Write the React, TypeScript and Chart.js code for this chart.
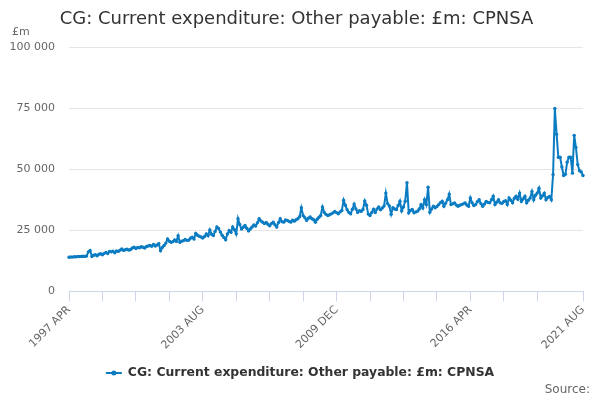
import { Chart, registerables } from 'chart.js'
import { useEffect, useRef } from 'react'

Chart.register(...registerables)

const FONT = "'DejaVu Sans', sans-serif"
const BLUE = '#0b7cc2'
const SERIES = 'CG: Current expenditure: Other payable: £m: CPNSA'

const MONTHS = ['JAN', 'FEB', 'MAR', 'APR', 'MAY', 'JUN', 'JUL', 'AUG', 'SEP', 'OCT', 'NOV', 'DEC']

// monthly values, £m, each row runs April to March
const fy1997 = [14000, 14100, 14050, 14200, 14150, 14300, 14250, 14300, 14400, 14350, 14500, 16200]
const fy1998 = [16800, 14300, 14800, 15000, 14600, 15200, 15400, 15000, 15600, 16000, 15500, 16400]
const fy1999 = [16200, 16500, 15800, 16600, 16400, 16900, 17400, 16800, 17100, 17300, 16900, 17200]
const fy2000 = [17800, 18100, 17600, 18000, 17900, 18300, 18100, 17800, 18400, 18600, 18800, 18500]
const fy2001 = [19200, 18600, 19000, 19600, 16700, 18000, 18800, 19800, 21500, 20600, 20100, 20400]
const fy2002 = [21100, 20500, 22800, 20100, 20600, 20800, 21300, 20900, 21000, 21800, 22200, 21500]
const fy2003 = [23800, 23000, 22600, 22300, 21900, 22500, 23600, 22800, 25200, 23400, 22900, 24600]
const fy2004 = [26400, 25800, 24300, 23000, 22100, 21200, 23500, 25000, 24200, 26400, 25300, 23600]
const fy2005 = [29800, 27400, 25600, 26300, 27000, 25900, 24800, 25600, 26400, 27200, 26800, 28100]
const fy2006 = [29800, 28900, 28400, 27800, 28300, 27500, 26900, 27800, 28400, 27300, 26400, 28200]
const fy2007 = [29800, 28600, 28400, 29300, 29100, 28700, 28400, 29200, 28800, 29400, 29800, 30600]
const fy2008 = [34300, 31100, 30200, 29100, 30000, 30500, 29800, 29400, 28400, 29600, 30400, 31100]
const fy2009 = [34600, 32400, 31600, 31100, 31400, 31800, 32200, 32800, 32300, 31800, 32600, 33200]
const fy2010 = [37400, 35300, 33500, 32400, 31800, 33700, 35800, 33800, 32400, 33100, 32800, 33600]
const fy2011 = [37100, 35300, 31700, 31100, 32400, 33700, 32400, 33800, 34600, 33500, 34200, 35000]
const fy2012 = [40300, 36000, 35000, 31600, 34300, 33800, 33600, 35200, 37000, 33000, 34600, 37000]
const fy2013 = [44600, 32200, 33200, 33600, 32200, 32600, 32900, 33800, 35600, 34200, 37600, 35600]
const fy2014 = [42700, 32500, 33800, 34900, 34300, 34800, 35600, 36400, 37000, 34900, 36200, 37600]
const fy2015 = [39900, 35600, 35900, 36300, 35400, 34900, 35300, 35600, 35900, 36300, 35400, 34900]
const fy2016 = [38300, 36300, 35200, 35600, 36800, 37600, 36000, 34900, 35800, 36900, 36500, 36300]
const fy2017 = [37600, 39000, 35600, 36600, 37600, 36300, 36100, 36900, 37200, 35600, 38300, 37400]
const fy2018 = [36300, 38200, 39000, 37800, 40300, 36900, 37900, 39000, 36300, 37400, 38300, 41000]
const fy2019 = [37600, 39400, 40300, 42300, 38300, 39200, 40300, 37600, 38500, 38900, 37600, 47900]
const fy2020 = [75000, 64500, 55000, 55000, 51000, 47500, 48000, 53000, 55000, 55000, 48500, 64000]
const fy2021 = [59000, 52000, 49500, 49000, 47500]

const values = [
  ...fy1997, ...fy1998, ...fy1999, ...fy2000, ...fy2001, ...fy2002, ...fy2003, ...fy2004,
  ...fy2005, ...fy2006, ...fy2007, ...fy2008, ...fy2009, ...fy2010, ...fy2011, ...fy2012,
  ...fy2013, ...fy2014, ...fy2015, ...fy2016, ...fy2017, ...fy2018, ...fy2019, ...fy2020, ...fy2021,
]

const labels = values.map((_, i) => `${1997 + Math.floor((3 + i) / 12)} ${MONTHS[(3 + i) % 12]}`)

const tickIdx = [0, 19, 38, 57, 76, 95, 114, 133, 152, 171, 190, 209, 228, 247, 266, 292]
const labelIdx = [0, 76, 152, 228, 292]

const fmt = (v: number) => String(v).replace(/\B(?=(\d{3})+(?!\d))/g, ' ')

const extras = {
  id: 'extras',
  afterDraw(chart: Chart) {
    const ctx = chart.ctx
    ctx.save()
    ctx.fillStyle = '#666666'
    ctx.font = `11px ${FONT}`
    ctx.textBaseline = 'middle'
    ctx.textAlign = 'left'
    ctx.fillText('£m', 12, 32)
    ctx.font = `12px ${FONT}`
    ctx.textAlign = 'right'
    ctx.fillText('Source:', 590, 390)

    // legend
    ctx.font = `bold 12.4px ${FONT}`
    const tw = ctx.measureText(SERIES).width
    const x0 = (600 - (16 + 6 + tw)) / 2
    const y = 373
    ctx.strokeStyle = BLUE
    ctx.lineWidth = 2
    ctx.beginPath()
    ctx.moveTo(x0, y)
    ctx.lineTo(x0 + 16, y)
    ctx.stroke()
    ctx.fillStyle = BLUE
    ctx.beginPath()
    ctx.arc(x0 + 8, y, 2.5, 0, Math.PI * 2)
    ctx.fill()
    ctx.fillStyle = '#333333'
    ctx.textAlign = 'left'
    ctx.fillText(SERIES, x0 + 22, y)
    ctx.restore()
  },
}

export default function App() {
  const canvasRef = useRef<HTMLCanvasElement>(null)
  const chartRef = useRef<Chart | null>(null)

  useEffect(() => {
    if (!canvasRef.current) return
    if (chartRef.current) chartRef.current.destroy()

    chartRef.current = new Chart(canvasRef.current, {
      type: 'line',
      data: {
        labels,
        datasets: [{
          label: SERIES,
          data: values,
          borderColor: BLUE,
          backgroundColor: BLUE,
          borderWidth: 2,
          pointRadius: 1.7,
          pointBorderWidth: 0,
          pointBackgroundColor: BLUE,
          tension: 0,
        }],
      },
      options: {
        animation: false,
        responsive: true,
        maintainAspectRatio: false,
        layout: { padding: { left: 10, right: 17, bottom: 46 } },
        plugins: {
          legend: { display: false },
          tooltip: { enabled: false },
          title: {
            display: true,
            text: SERIES,
            color: '#333333',
            font: { family: FONT, size: 18, weight: 'normal' },
            padding: { top: 9, bottom: 17 },
          },
        },
        scales: {
          x: {
            afterBuildTicks: (axis: any) => { axis.ticks = tickIdx.map(v => ({ value: v })) },
            ticks: {
              autoSkip: false,
              minRotation: 45,
              maxRotation: 45,
              color: '#666666',
              font: { family: FONT, size: 11 },
              padding: 2,
              callback: (v: any) => (labelIdx.includes(v) ? labels[v] : ''),
            },
            grid: { drawOnChartArea: false, color: '#ccd6eb', tickLength: 10 },
            border: { color: '#ccd6eb' },
          },
          y: {
            min: 0,
            max: 100000,
            afterFit: (axis: any) => { axis.width = 59 },
            ticks: {
              stepSize: 25000,
              color: '#666666',
              font: { family: FONT, size: 11 },
              padding: 14,
              callback: (v: any) => fmt(v),
            },
            grid: { color: '#e6e6e6', drawTicks: false },
            border: { display: false },
          },
        },
      },
      plugins: [extras],
    })
    return () => { if (chartRef.current) chartRef.current.destroy() }
  }, [])

  return (
    <div style={{ position: 'fixed', left: 0, top: 0, width: 600, height: 400 }}>
      <canvas ref={canvasRef} />
    </div>
  )
}
